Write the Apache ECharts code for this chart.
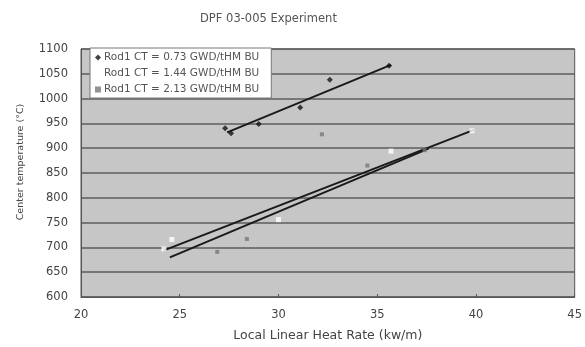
<!DOCTYPE html>
<html>
<head>
<meta charset="utf-8">
<script src="https://cdn.jsdelivr.net/npm/echarts@6/dist/echarts.min.js"></script>
<style>
  html, body { margin: 0; padding: 0; background: #fff; }
  #chart { width: 585px; height: 347px; }
</style>
</head>
<body>
<div id="chart"></div>
<script>
// 图表数据
const seriesNames = [
    'Rod1 CT = 0.73 GWD/tHM BU',
    'Rod1 CT = 1.44 GWD/tHM BU',
    'Rod1 CT = 2.13 GWD/tHM BU'
];

// [局部线功率 kW/m, 中心温度 °C]
const rod073Points = [[27.3, 940], [27.6, 930], [29.0, 949], [31.1, 982], [32.6, 1038], [35.6, 1066]];
const rod144Points = [[24.2, 697], [24.6, 716], [30.0, 756], [35.7, 894], [39.8, 935]];
const rod213Points = [[26.9, 691], [28.4, 717], [32.2, 928], [34.5, 865], [37.4, 896]];

// 趋势线端点
const rod073Trend = [[27.4, 932], [35.7, 1068]];
const rod144Trend = [[24.2, 694], [39.9, 937]];
const rod213Trend = [[24.5, 680], [37.6, 899]];

const xTicks = { min: 20, max: 45, interval: 5 };
const yTicks = { min: 600, max: 1100, interval: 50 };

const FONT = '"DejaVu Sans", "Liberation Sans", sans-serif';

function trendSeries(data) {
    return {
        type: 'line',
        data: data,
        showSymbol: false,
        silent: true,
        lineStyle: { color: '#1a1a1a', width: 2 },
        z: 3
    };
}

const chart = echarts.init(document.getElementById('chart'));

const option = {
    animation: false,
    backgroundColor: '#ffffff',
    textStyle: { fontFamily: FONT },
    title: {
        text: 'DPF 03-005 Experiment',
        left: 195,
        top: 8,
        textStyle: { fontSize: 11.5, fontWeight: 'normal', color: '#555', fontFamily: FONT }
    },
    grid: {
        left: 81, right: 8, top: 49, bottom: 46,
        show: true,
        backgroundColor: '#c6c6c6',
        borderColor: '#555',
        borderWidth: 1
    },
    legend: {
        data: seriesNames,
        orient: 'vertical',
        left: 90,
        top: 48,
        padding: [4, 12, 3, 5],
        itemGap: 5,
        itemWidth: 6,
        itemHeight: 6,
        backgroundColor: '#ffffff',
        borderColor: '#777',
        borderWidth: 1,
        textStyle: { fontSize: 10.5, color: '#555', fontFamily: FONT, padding: [0, 0, 0, -2] }
    },
    xAxis: {
        type: 'value',
        min: xTicks.min, max: xTicks.max, interval: xTicks.interval,
        name: 'Local Linear Heat Rate (kw/m)',
        nameLocation: 'middle',
        nameGap: 32,
        nameTextStyle: { fontSize: 12.5, color: '#444', fontFamily: FONT },
        axisLine: { show: true, lineStyle: { color: '#555' } },
        axisTick: { show: true, inside: true, length: 3, lineStyle: { color: '#555' } },
        axisLabel: { fontSize: 11.5, color: '#444', margin: 12, fontFamily: FONT },
        splitLine: { show: false }
    },
    yAxis: {
        type: 'value',
        min: yTicks.min, max: yTicks.max, interval: yTicks.interval,
        name: 'Center temperature (°C)',
        nameLocation: 'middle',
        nameGap: 55,
        nameTextStyle: { fontSize: 9.5, color: '#444', fontFamily: FONT, padding: [0, 0, 0, 22] },
        axisLine: { show: true, lineStyle: { color: '#555' } },
        axisTick: { show: false },
        axisLabel: {
            fontSize: 11.5, color: '#444', margin: 13, fontFamily: FONT,
            formatter: (v) => String(v)
        },
        splitLine: { show: true, lineStyle: { color: '#5c5c5c', width: 1.5 } }
    },
    series: [
        {
            name: seriesNames[0],
            type: 'scatter',
            data: rod073Points,
            symbol: 'diamond',
            symbolSize: 6,
            itemStyle: { color: '#111' },
            z: 4
        },
        {
            name: seriesNames[1],
            type: 'scatter',
            data: rod144Points,
            symbol: 'rect',
            symbolSize: 5,
            itemStyle: { color: '#ffffff' },
            z: 4
        },
        {
            name: seriesNames[2],
            type: 'scatter',
            data: rod213Points,
            symbol: 'rect',
            symbolSize: 4,
            itemStyle: { color: '#777' },
            z: 4
        },
        trendSeries(rod073Trend),
        trendSeries(rod144Trend),
        trendSeries(rod213Trend)
    ]
};

chart.setOption(option);
</script>
</body>
</html>
